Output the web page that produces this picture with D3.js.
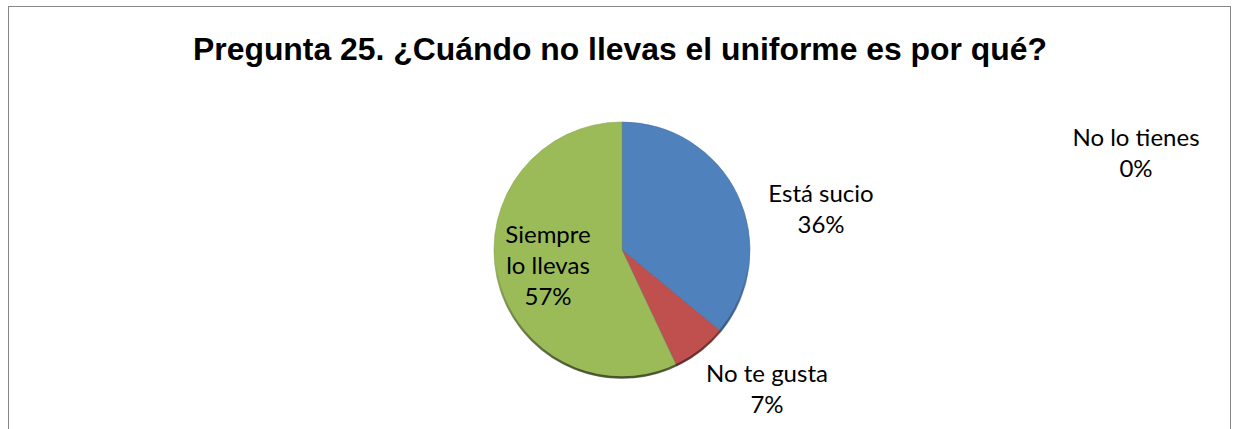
<!DOCTYPE html>
<html>
<head>
<meta charset="utf-8">
<script src="https://cdn.jsdelivr.net/npm/d3@7"></script>
<style>
  body { margin: 0; background: #fff; }
  svg { display: block; }
</style>
</head>
<body>
<svg id="chart" width="1235" height="429"></svg>
<script>
// data
const categories = ["Está sucio", "No te gusta", "No lo tienes", "Siempre lo llevas"];
const values = [36, 7, 0, 57];
const labelLines = [["Está sucio", "36%"], ["No te gusta", "7%"], ["No lo tienes", "0%"], ["Siempre", "lo llevas", "57%"]];
const colors = ["#4F81BD", "#C0504D", "#8064A2", "#9BBB59"];
const titleText = "Pregunta 25. ¿Cuándo no llevas el uniforme es por qué?";

// layout
const width = 1235, height = 429;
const cx = 622, cy = 250, radius = 128;
// label centre offsets from pie centre (first-line baseline), like Excel's "best fit"
const labelOffsets = [[199, -48], [145, 132], [514, -104], [-74, -7]];
const lineGap = 31;

const svg = d3.select("#chart");

// chart area frame (bottom edge is cut off in the picture)
svg.append("rect")
    .attr("x", 8.5).attr("y", 6.5)
    .attr("width", 1222).attr("height", 440)
    .attr("fill", "white")
    .attr("stroke", "#878787")
    .attr("stroke-width", 1);

svg.append("text")
    .attr("x", 620).attr("y", 60)
    .attr("text-anchor", "middle")
    .style("font-family", "'Liberation Sans', Arial, sans-serif")
    .style("font-weight", "bold")
    .style("font-size", "31px")
    .attr("fill", "#000")
    .attr("textLength", 854)
    .attr("lengthAdjust", "spacingAndGlyphs")
    .text(titleText);

const defs = svg.append("defs");
const rim = defs.append("linearGradient")
    .attr("id", "rim").attr("x1", 0).attr("y1", 0).attr("x2", 0).attr("y2", 1);
rim.append("stop").attr("offset", "0.55").attr("stop-color", "#000").attr("stop-opacity", 0);
rim.append("stop").attr("offset", "1").attr("stop-color", "#000").attr("stop-opacity", 0.55);

const pie = d3.pie().sort(null).value(d => d);
const arc = d3.arc().innerRadius(0).outerRadius(radius);

const g = svg.append("g").attr("transform", "translate(" + cx + "," + cy + ")");

g.selectAll("path.slice")
    .data(pie(values))
    .join("path")
    .attr("class", "slice")
    .attr("d", arc)
    .attr("fill", (d, i) => colors[i])
    .attr("stroke", (d, i) => d3.color(colors[i]).darker(0.4))
    .attr("stroke-width", 0.6);

// dark rim at the bottom of the pie
g.append("circle")
    .attr("r", radius - 0.5)
    .attr("fill", "none")
    .attr("stroke", "url(#rim)")
    .attr("stroke-width", 2.5);

// data labels
const labels = g.selectAll("text.lbl")
    .data(labelLines)
    .join("text")
    .attr("class", "lbl")
    .attr("text-anchor", "middle")
    .style("font-family", "Lato, 'Open Sans', sans-serif")
    .style("font-size", "24px")
    .attr("fill", "#000")
    .attr("transform", (d, i) => "translate(" + labelOffsets[i][0] + "," + labelOffsets[i][1] + ")");

labels.selectAll("tspan")
    .data(d => d)
    .join("tspan")
    .attr("x", 0)
    .attr("y", (d, i) => i * lineGap)
    .text(d => d);
</script>
</body>
</html>
